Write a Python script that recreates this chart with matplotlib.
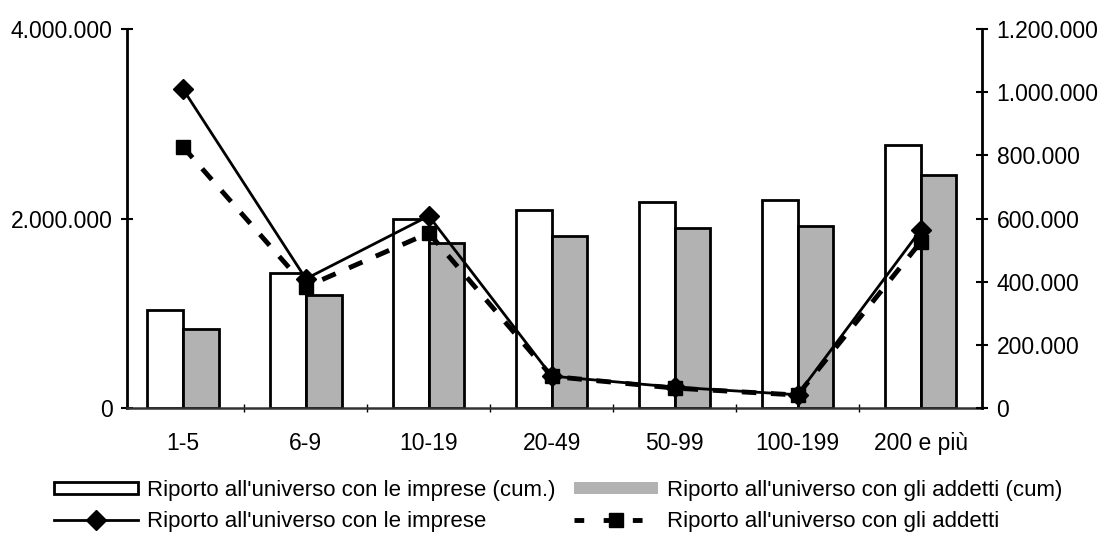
import matplotlib
matplotlib.use("Agg")
import matplotlib.pyplot as plt
import matplotlib.ticker as mticker
from matplotlib.lines import Line2D
from matplotlib.patches import Patch
import numpy as np

plt.rcParams['font.family'] = ['Liberation Sans', 'DejaVu Sans']

categories = ["1-5", "6-9", "10-19", "20-49", "50-99", "100-199", "200 e più"]
imprese_cum = [1030000, 1420000, 2000000, 2090000, 2170000, 2190000, 2780000]
addetti_cum = [830000, 1190000, 1740000, 1820000, 1900000, 1920000, 2460000]
imprese = [1010000, 409000, 608000, 101000, 66000, 42000, 563000]
addetti = [827000, 384000, 554000, 100000, 63000, 41000, 525000]

left_ticks = [0, 2000000, 4000000]
right_ticks = [0, 200000, 400000, 600000, 800000, 1000000, 1200000]

labels = ["Riporto all'universo con le imprese (cum.)",
          "Riporto all'universo con gli addetti (cum)",
          "Riporto all'universo con le imprese",
          "Riporto all'universo con gli addetti"]

def fmt(v, pos=None):
    return f"{int(v):,}".replace(",", ".")

FS = 16.5
fig = plt.figure(figsize=(11.01, 5.36), dpi=100)
ax = fig.add_axes([127/1101, 1-408/536, (982-127)/1101, (408-29)/536])
x = np.arange(len(categories))
w = 0.29
ax.bar(x - w/2, imprese_cum, w, color='white', edgecolor='black', linewidth=2, zorder=2)
ax.bar(x + w/2, addetti_cum, w, color='#b2b2b2', edgecolor='black', linewidth=2, zorder=2)
ax.set_xlim(-0.455, 6.5)
ax.set_ylim(0, 4000000)
ax.set_yticks(left_ticks)
ax.yaxis.set_major_formatter(mticker.FuncFormatter(fmt))
ax.tick_params(axis='y', direction='inout', length=9, width=1.5, labelsize=FS, pad=6)

ax.set_xticks(np.arange(len(categories) - 1) + 0.5)
ax.set_xticklabels([])
ax.set_xticks(x, minor=True)
ax.set_xticklabels(categories, minor=True)
ax.tick_params(axis='x', which='major', direction='inout', length=6, width=1)
ax.tick_params(axis='x', which='minor', length=0, labelsize=FS, pad=17)

for s in ['top', 'right']:
    ax.spines[s].set_visible(False)
ax.spines['left'].set_linewidth(2)
ax.spines['bottom'].set_linewidth(1.8)
ax.spines['bottom'].set_color('#333333')

ax2 = ax.twinx()
ax2.plot(x, imprese, color='black', linewidth=2, marker='D', markersize=10, zorder=3)
ax2.plot(x, addetti, color='black', linewidth=3.5, linestyle=(0, (3, 3)),
         marker='s', markersize=10, zorder=3)
ax2.set_ylim(0, 1200000)
ax2.set_yticks(right_ticks)
ax2.yaxis.set_major_formatter(mticker.FuncFormatter(fmt))
ax2.tick_params(axis='y', direction='inout', length=9, width=1.5, labelsize=FS, pad=6)
for s in ['top', 'left', 'bottom']:
    ax2.spines[s].set_visible(False)
ax2.spines['right'].set_linewidth(2)

handles = [
    Patch(facecolor='white', edgecolor='black', linewidth=2),
    Line2D([], [], color='black', linewidth=2, marker='D', markersize=10),
    Patch(facecolor='#b2b2b2', edgecolor='#b2b2b2', linewidth=0),
    Line2D([], [], color='black', linewidth=3.5, linestyle=(0, (2, 4)), marker='s', markersize=10),
]
leg_labels = [labels[0], labels[2], labels[1], labels[3]]
fig.legend(handles, leg_labels, loc='upper left', bbox_to_anchor=(54/1101, 1-480/536),
           ncol=2, frameon=False, fontsize=16, handlelength=3.8, handleheight=0.4,
           handletextpad=0.4, columnspacing=0.8, labelspacing=0.43, borderpad=0,
           borderaxespad=0)

fig.savefig("out.png", dpi=100)
